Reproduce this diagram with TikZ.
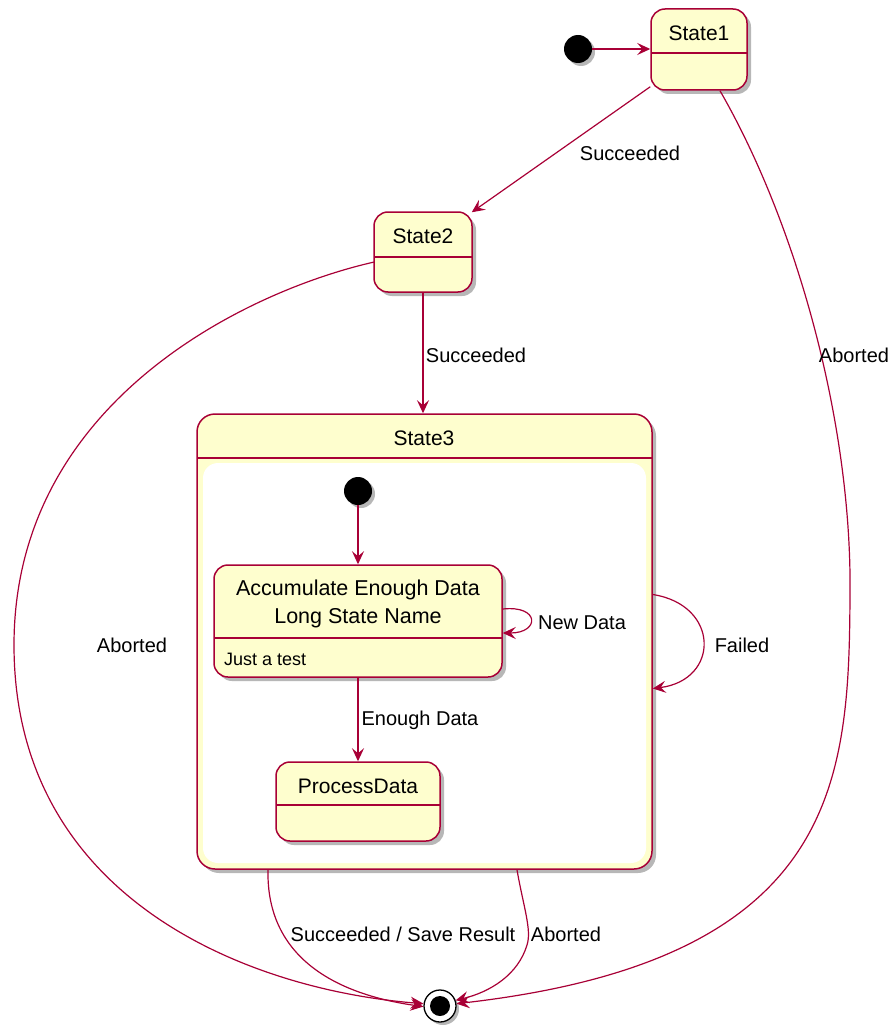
\documentclass[tikz,border=0pt]{standalone}
\usepackage{fontspec}
\setmainfont{Liberation Sans}
\usetikzlibrary{arrows.meta,shadows,calc}
\definecolor{crim}{HTML}{A80036}
\definecolor{cream}{HTML}{FEFECE}
\tikzset{
  statebox/.style={draw=crim, fill=cream, line width=1.5pt, rounded corners=14pt, inner sep=0pt,
    drop shadow={shadow xshift=4pt, shadow yshift=-4pt, opacity=0.4, fill=black!70}},
  startdot/.style={circle, fill=black, minimum size=28pt, inner sep=0pt,
    drop shadow={shadow xshift=3pt, shadow yshift=-3pt, opacity=0.4, fill=black!70}},
  divider/.style={draw=crim, line width=1.3pt},
  title/.style={inner sep=0pt, font=\fontsize{21}{25}\selectfont},
  lbl/.style={inner sep=0pt, font=\fontsize{20}{24}\selectfont},
  conn/.style={draw=crim, line width=1.2pt, -{Stealth[length=13pt,width=12pt,inset=5pt]}},
}
\begin{document}
\begin{tikzpicture}[x=1pt,y=-1pt]
\useasboundingbox (0,0) rectangle (892,1030);

% ---- states ----
\node[startdot] (init1) at (578,49) {};
\node[statebox, minimum width=96pt, minimum height=81pt] (s1) at (699,49.5) {};
\draw[divider] (651,53) -- (747,53);
\node[title] (s1t) at (699,33) {State1};

\node[statebox, minimum width=98pt, minimum height=80pt] (s2) at (423,252) {};
\draw[divider] (374,257) -- (472,257);
\node[title] (s2t) at (423,236) {State2};

\node[statebox, rounded corners=18pt, minimum width=455pt, minimum height=455pt] (s3) at (424.5,641.5) {};
\fill[white, rounded corners=15pt] (203,463) rectangle (646,863);
\draw[divider] (197,458) -- (652,458);
\node[title] (s3t) at (424,438) {State3};

\node[startdot] (init2) at (358,491) {};

\node[statebox, minimum width=288pt, minimum height=112pt] (acc) at (358,621) {};
\draw[divider] (214,638) -- (502,638);
\node[title, align=center, font=\fontsize{21.5}{28}\selectfont] (acct) at (358,604) {Accumulate Enough Data\\Long State Name};
\node[lbl, anchor=west, font=\fontsize{18}{22}\selectfont] (accd) at (224,659) {Just a test};

\node[statebox, minimum width=164pt, minimum height=79pt] (proc) at (358,801.5) {};
\draw[divider] (276,805) -- (440,805);
\node[title] (proct) at (358,786) {ProcessData};

% final state
\node[circle, draw=black, fill=white, line width=1.3pt, minimum size=32pt, inner sep=0pt,
  drop shadow={shadow xshift=3pt, shadow yshift=-3pt, opacity=0.4, fill=black!70}] (fin) at (440,1006) {};
\node[circle, fill=black, minimum size=20pt, inner sep=0pt] (fininner) at (fin) {};

% ---- connectors ----
\draw[conn] (init1.east) -- (s1.west |- init1.east);

\draw[conn] ($(s1.south west)+(0,-4)$) -- ($(s2.north east)+(-1,1)$);
\node[lbl] (l1) at (630,153) {Succeeded};

\draw[conn] ($(s1.south)+(21,0)$) .. controls (800,230) and (852,430) .. (850,594)
  .. controls (849,780) and (840,960) .. (fin.8);
\node[lbl] (l2) at (854,355) {Aborted};

\draw[conn] (s2.south) -- (s2.south |- s3.north);
\node[lbl] (l3) at (476,355) {Succeeded};

\draw[conn] ($(s2.west)+(1,10)$) .. controls (250,290) and (14,400) .. (14,645)
  .. controls (14,900) and (250,990) .. (fin.172);
\node[lbl] (l4) at (132,645) {Aborted};

\draw[conn] ($(s3.east)+(0,-47)$) .. controls (720,605) and (720,680) .. ($(s3.east)+(0,47)$);
\node[lbl] (l5) at (742,645) {Failed};

\draw[conn] (init2.south) -- (acc.north);

\draw[conn] ($(acc.east)+(0,-12)$) .. controls (540,605) and (540,633) .. ($(acc.east)+(0,12)$);
\node[lbl] (l6) at (582,623) {New Data};

\draw[conn] (acc.south) -- (proc.north);
\node[lbl] (l7) at (420,720) {Enough Data};

\draw[conn] ($(s3.south)+(-156.5,0)$) .. controls (266,960) and (340,995) .. (fin.182);
\node[lbl] (l8) at (403,934) {Succeeded / Save Result};

\draw[conn] ($(s3.south)+(92.5,0)$) .. controls (523,905) and (532,930) .. (527,945)
  .. controls (518,975) and (490,992) .. (fin.20);
\node[lbl] (l9) at (566,934) {Aborted};
\end{tikzpicture}
\end{document}
